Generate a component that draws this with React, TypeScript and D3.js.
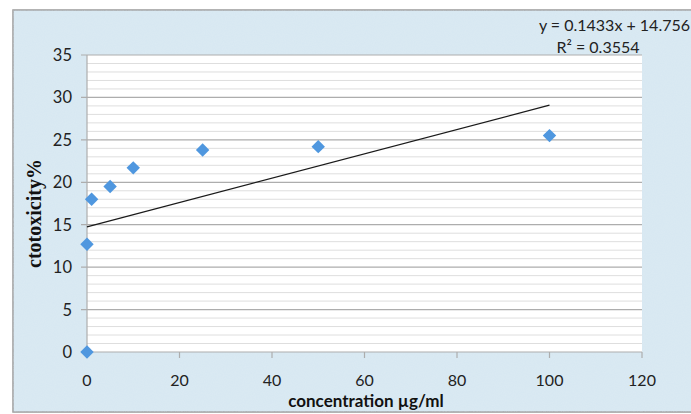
import React from "react";
import * as d3 from "d3";

const concentrations = [0, 0, 1, 5, 10, 25, 50, 100];
const cytotoxicity = [0, 12.7, 18.0, 19.5, 21.7, 23.8, 24.2, 25.5];
const xTicks = [0, 20, 40, 60, 80, 100, 120];
const yTicks = [0, 5, 10, 15, 20, 25, 30, 35];
const trendSlope = 0.1433;
const trendIntercept = 14.756;
const trendRange = [0, 100];
const equationText = "y = 0.1433x + 14.756";
const r2Text = "R² = 0.3554";
const xTitle = "concentration µg/ml";
const yTitle = "ctotoxicity%";

export default function App() {
  const W = 691, H = 414;
  const left = 87, right = 642, top = 55, bottom = 352;
  const x = d3.scaleLinear().domain([0, 120]).range([left, right]);
  const y = d3.scaleLinear().domain([0, 35]).range([bottom, top]);
  const minor = d3.range(1, 36).filter((v) => v % 5 !== 0);
  const diamond = d3.symbol().type(d3.symbolDiamond2).size(115)() as string;
  const line = d3
    .line<number>()
    .x((d) => x(d))
    .y((d) => y(trendSlope * d + trendIntercept));
  const tickFont = "Lato, 'Open Sans', sans-serif";

  return (
    <svg
      width={W}
      height={H}
      style={{ position: "absolute", left: 0, top: 0, display: "block" }}
    >
      <defs>
        <filter id="tex" x="0" y="0" width="100%" height="100%">
          <feTurbulence type="fractalNoise" baseFrequency="0.9" numOctaves="2" seed="3" result="n" />
          <feColorMatrix type="matrix" values="0 0 0 0 0.78  0 0 0 0 0.87  0 0 0 0 0.93  0 0 0 0.35 0" />
        </filter>
      </defs>
      <rect x={0} y={0} width={W} height={H} fill="#ffffff" />
      <rect x={13} y={10} width={W - 13 + 2} height={402} fill="#d6e7f1" stroke="#9a9a9a" strokeWidth={1.5} />
      <rect x={13} y={10} width={W - 13} height={402} filter="url(#tex)" />
      <rect x={left} y={top} width={right - left} height={bottom - top} fill="#ffffff" />
      {minor.map((v) => (
        <line key={"m" + v} x1={left} x2={right} y1={y(v)} y2={y(v)} stroke="#dedede" strokeWidth={1} />
      ))}
      {yTicks.map((v) => (
        <line key={"g" + v} x1={left - 6} x2={right} y1={y(v)} y2={y(v)} stroke="#adadad" strokeWidth={1.2} />
      ))}
      <line x1={left} x2={left} y1={top} y2={bottom} stroke="#adadad" strokeWidth={1.2} />
      {xTicks.map((v) => (
        <line key={"xt" + v} x1={x(v)} x2={x(v)} y1={bottom} y2={bottom + 6} stroke="#adadad" strokeWidth={1.2} />
      ))}
      {yTicks.map((v) => (
        <text key={"yl" + v} x={left - 15} y={y(v)} dy="0.36em" textAnchor="end" fontFamily={tickFont} fontSize={16.5} fill="#222">
          {v}
        </text>
      ))}
      {xTicks.map((v) => (
        <text key={"xl" + v} x={x(v)} y={bottom + 34} textAnchor="middle" fontFamily={tickFont} fontSize={16} fill="#222">
          {v}
        </text>
      ))}
      <path d={line(trendRange) as string} fill="none" stroke="#1a1a1a" strokeWidth={1.3} />
      {concentrations.map((c, i) => (
        <path key={"p" + i} d={diamond} transform={`translate(${x(c)},${y(cytotoxicity[i])})`} fill="#4f97df" />
      ))}
      <text x={690} y={31} textAnchor="end" fontFamily={tickFont} fontSize={16} fill="#222">
        {equationText}
      </text>
      <text x={598} y={53} textAnchor="middle" fontFamily={tickFont} fontSize={16} fill="#222">
        {r2Text}
      </text>
      <text x={366} y={407} textAnchor="middle" fontFamily={tickFont} fontWeight="bold" fontSize={17} fill="#111">
        {xTitle}
      </text>
      <text
        transform={`translate(41,${(top + bottom) / 2 + 10}) rotate(-90)`}
        textAnchor="middle"
        fontFamily="'Liberation Serif', serif"
        fontWeight="bold"
        fontSize={20}
        fill="#111"
      >
        {yTitle}
      </text>
    </svg>
  );
}
